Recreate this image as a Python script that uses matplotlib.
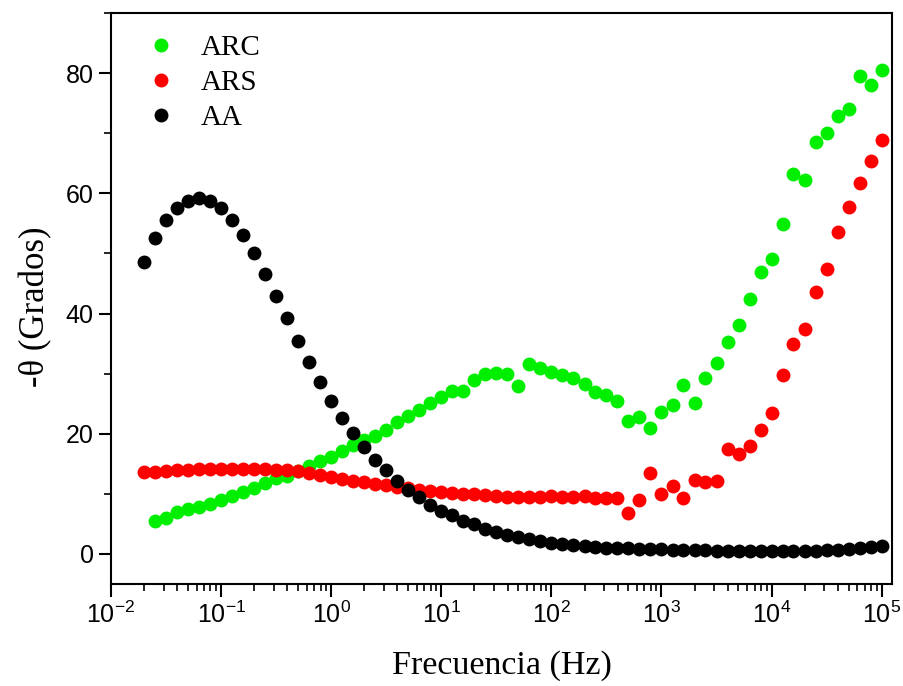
import matplotlib
matplotlib.use("Agg")
import matplotlib.pyplot as plt
from matplotlib.ticker import LogLocator, MultipleLocator, FixedLocator, NullFormatter

plt.rcParams['font.family'] = ['Liberation Sans', 'DejaVu Sans']
plt.rcParams['mathtext.fontset'] = 'custom'
plt.rcParams['mathtext.rm'] = 'Liberation Sans'
plt.rcParams['mathtext.it'] = 'Liberation Sans:italic'
plt.rcParams['mathtext.bf'] = 'Liberation Sans:bold'

freq = [0.02, 0.0251, 0.0316, 0.0398, 0.0501, 0.0631, 0.0794,
        0.1, 0.126, 0.158, 0.2, 0.251, 0.316, 0.398, 0.501, 0.631, 0.794,
        1, 1.26, 1.58, 2, 2.51, 3.16, 3.98, 5.01, 6.31, 7.94,
        10, 12.6, 15.8, 20, 25.1, 31.6, 39.8, 50.1, 63.1, 79.4,
        100, 126, 158, 200, 251, 316, 398, 501, 631, 794,
        1000, 1260, 1580, 2000, 2510, 3160, 3980, 5010, 6310, 7940,
        10000, 12600, 15800, 20000, 25100, 31600, 39800, 50100, 63100, 79400,
        100000]

freq_arc = freq[1:]

theta_arc = [5.4, 6.0, 6.9, 7.5, 7.8, 8.3, 8.9, 9.6, 10.3, 10.9,
             11.8, 12.7, 13.05, 13.8, 14.7, 15.4, 16.2, 17.05, 18.05, 18.9,
             19.7, 20.7, 21.9, 22.9, 23.9, 25.1, 26.1, 27.05, 27.05, 28.9,
             29.9, 30.1, 29.9, 27.9, 31.55, 31.0, 30.3, 29.7, 29.3, 28.2,
             26.9, 26.4, 25.4, 22.2, 22.8, 21.0, 23.6, 24.8, 28.05, 25.1,
             29.35, 31.7, 35.2, 38.15, 42.5, 46.9, 49.0, 54.9, 63.2, 62.2,
             68.5, 70.1, 72.9, 74.1, 79.6, 78.05, 80.55]

theta_ars = [13.6, 13.7, 13.8, 13.9, 14.0, 14.1, 14.2, 14.2, 14.2, 14.2,
             14.2, 14.1, 14.0, 13.9, 13.8, 13.5, 13.1, 12.8, 12.5, 12.2,
             11.9, 11.7, 11.4, 11.1, 10.9, 10.7, 10.5, 10.3, 10.1, 10.0,
             9.9, 9.8, 9.7, 9.5, 9.4, 9.45, 9.45, 9.6, 9.45, 9.45,
             9.7, 9.3, 9.3, 9.3, 6.8, 8.9, 13.5, 9.9, 11.3, 9.35,
             12.3, 11.9, 12.2, 17.4, 16.55, 18.0, 20.55, 23.4, 29.8, 35.0,
             37.4, 43.6, 47.4, 53.6, 57.7, 61.8, 65.3, 68.8]

theta_aa = [48.6, 52.5, 55.5, 57.6, 58.8, 59.2, 58.7, 57.5, 55.5, 53.1,
            50.0, 46.6, 42.9, 39.2, 35.4, 31.9, 28.6, 25.5, 22.6, 20.2,
            17.8, 15.7, 13.9, 12.2, 10.7, 9.4, 8.2, 7.2, 6.4, 5.55,
            4.9, 4.2, 3.6, 3.2, 2.8, 2.45, 2.1, 1.85, 1.67, 1.5,
            1.3, 1.15, 1.05, 1.0, 0.95, 0.85, 0.8, 0.75, 0.7, 0.65,
            0.6, 0.58, 0.55, 0.52, 0.5, 0.48, 0.47, 0.46, 0.46, 0.47,
            0.5, 0.55, 0.6, 0.7, 0.8, 0.95, 1.1, 1.4]

x_ticks = [1e-2, 1e-1, 1e0, 1e1, 1e2, 1e3, 1e4, 1e5]
y_ticks = [0, 20, 40, 60, 80]

labels = ['ARC', 'ARS', 'AA']
colors = ['#00ee00', '#ff0000', '#000000']

fig = plt.figure(figsize=(9.04, 6.86), dpi=100)
ax = fig.add_axes([0.1228, 0.1487, 0.8639, 0.8323])

series = [(freq_arc, theta_arc), (freq, theta_ars), (freq, theta_aa)]
for (f, t), lab, c in zip(series, labels, colors):
    ax.plot(f, t, linestyle='none', marker='o', ms=10, color=c,
            markeredgewidth=0, label=lab)

ax.set_xscale('log')
ax.set_xlim(1e-2, 1.24e5)
ax.set_ylim(-5, 90)
ax.xaxis.set_major_locator(FixedLocator(x_ticks))
ax.xaxis.set_minor_locator(LogLocator(base=10, subs=range(2, 10), numticks=20))
ax.xaxis.set_minor_formatter(NullFormatter())
ax.set_yticks(y_ticks)
ax.yaxis.set_minor_locator(MultipleLocator(10))

for s in ax.spines.values():
    s.set_linewidth(1.5)
ax.tick_params(which='major', direction='out', length=9, width=1.5, labelsize=18)
ax.tick_params(which='minor', direction='out', length=5, width=1.2)
ax.tick_params(axis='x', which='major', pad=4)

ax.set_xlabel('Frecuencia (Hz)', fontsize=24.5, family=['Liberation Serif'], labelpad=16)
ax.set_ylabel('-θ (Grados)', fontsize=25, family=['Liberation Serif'])
ax.yaxis.set_label_coords(-0.075, 0.485)

leg = ax.legend(loc='upper left', frameon=False, prop={'family': 'Liberation Serif', 'size': 21},
                handletextpad=0.75, labelspacing=0.3, borderaxespad=0.4,
                bbox_to_anchor=(0.012, 1.003), handlelength=1.2, markerscale=1.0)

fig.savefig('out.png', dpi=100)
